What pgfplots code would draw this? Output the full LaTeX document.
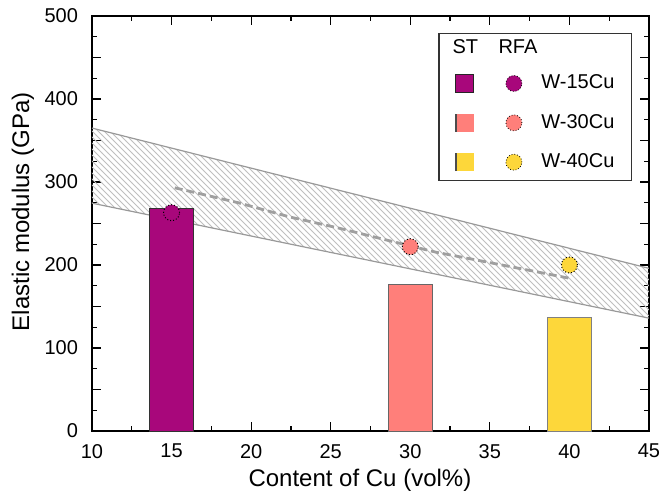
\documentclass[border=0pt]{standalone}
\usepackage{pgfplots}
\pgfplotsset{compat=1.18}
\usepgfplotslibrary{fillbetween}
\usetikzlibrary{patterns}
\usepackage{fontspec}
\setmainfont{Liberation Sans}
\definecolor{c15}{HTML}{A8077B}
\definecolor{c30}{HTML}{FF7F7A}
\definecolor{c40}{HTML}{FDD73A}
\begin{document}
\begin{tikzpicture}
\begin{axis}[
  at={(0,0)}, anchor=south west,
  width=278.5pt, height=207.5pt, scale only axis,
  xmin=10, xmax=45, ymin=0, ymax=500,
  xtick={10,15,...,45},
  ytick={0,50,...,500}, yticklabels={0,,100,,200,,300,,400,,500},
  minor x tick num=1, minor y tick num=1,
  tick align=inside, major tick length=4.6pt, minor tick length=2.6pt,
  every tick/.style={black, line width=0.6pt},
  axis line style={black, line width=0.8pt},
  /pgf/number format/assume math mode=true,
  ticklabel style={font=\fontsize{10}{12}\selectfont},
  xticklabel style={yshift=-3pt},
  yticklabel style={xshift=-3.5pt},
  xlabel={Content of Cu (vol\%)},
  ylabel={Elastic modulus (GPa)},
  every axis x label/.style={at={(axis description cs:0.481,-0.118)}, anchor=center, font=\fontsize{12}{14}\selectfont},
  every axis y label/.style={at={(axis description cs:-0.124,0.528)}, anchor=center, rotate=90, font=\fontsize{12}{14}\selectfont},
  legend style={at={(rel axis cs:0.9695,0.959)}, anchor=north east,
    draw=black!80, line width=0.6pt, font=\fontsize{10}{12}\selectfont,
    row sep=7.2pt, inner xsep=6.5pt, inner ysep=3pt},
  legend cell align=left,
]
% band
\addplot[name path=U, gray!80, line width=0.6pt, forget plot] coordinates {(10,365) (45,196)};
\addplot[name path=L, gray!80, line width=0.6pt, forget plot] coordinates {(10,274.5) (45,136)};
\addplot[pattern=north west lines, pattern color=gray!50, forget plot] fill between[of=U and L];
% bars (ST)
\addplot[ybar, bar width=2.8, bar shift=0pt, fill=c15, draw=black!80, line width=0.5pt, forget plot] coordinates {(15,267.5)};
\addplot[ybar, bar width=2.8, bar shift=0pt, fill=c30, draw=black!60, line width=0.5pt, forget plot] coordinates {(30,176)};
\addplot[ybar, bar width=2.8, bar shift=0pt, fill=c40, draw=black!50, line width=0.5pt, forget plot] coordinates {(40,137)};
% dashed trend
\addplot[gray!75, line width=1.4pt, dash pattern=on 4pt off 2pt, forget plot] coordinates {
  (15.2,293) (19.2,275) (22.4,258) (25.5,244.5) (28.0,232.5) (31.6,215.5) (34.3,205.5) (37.5,193.5) (40,184)};
% header legend
\addlegendimage{legend image code/.code={
  \node[anchor=west, inner sep=0pt, font=\fontsize{10}{12}\selectfont] at (0pt,0) {ST};
  \node[anchor=west, inner sep=0pt, font=\fontsize{10}{12}\selectfont] at (23pt,0) {RFA};
  \path[draw=none] (0,0) -- (36pt,0);}}
\addlegendentry{}
% RFA points
\addplot[only marks, mark=*, mark size=4pt, mark options={fill=c15, draw=black, densely dotted, line width=0.5pt},
  legend image code/.code={
   \path[draw=none] (0,0) -- (36pt,0);
   \draw[fill=c15, draw=black!85, line width=0.5pt, solid] (2pt,-4.5pt) rectangle (11pt,4.5pt);
   \draw[fill=c15, draw=black, densely dotted, line width=0.4pt] (31pt,0) circle (4pt);}]
  coordinates {(15,263)};
\addlegendentry{W-15Cu}
\addplot[only marks, mark=*, mark size=4pt, mark options={fill=c30, draw=black, densely dotted, line width=0.5pt},
  legend image code/.code={
   \path[draw=none] (0,0) -- (36pt,0);
   \draw[fill=c30, draw=none] (2pt,-4.5pt) rectangle (11pt,4.5pt);
   \draw[black!70, line width=0.6pt, solid] (2pt,-4.5pt) -- (2pt,4.5pt);
   \draw[fill=c30, draw=black, densely dotted, line width=0.4pt] (31pt,0) circle (4pt);}]
  coordinates {(30,222)};
\addlegendentry{W-30Cu}
\addplot[only marks, mark=*, mark size=4pt, mark options={fill=c40, draw=black, densely dotted, line width=0.5pt},
  legend image code/.code={
   \path[draw=none] (0,0) -- (36pt,0);
   \draw[fill=c40, draw=none] (2pt,-4.5pt) rectangle (11pt,4.5pt);
   \draw[black!70, line width=0.6pt, solid] (2pt,-4.5pt) -- (2pt,4.5pt);
   \draw[fill=c40, draw=black, densely dotted, line width=0.4pt] (31pt,0) circle (4pt);}]
  coordinates {(40,200)};
\addlegendentry{W-40Cu}
\end{axis}
\pgfresetboundingbox
\useasboundingbox (-46pt,-32pt) rectangle (284pt,215.5pt);
\end{tikzpicture}
\end{document}
